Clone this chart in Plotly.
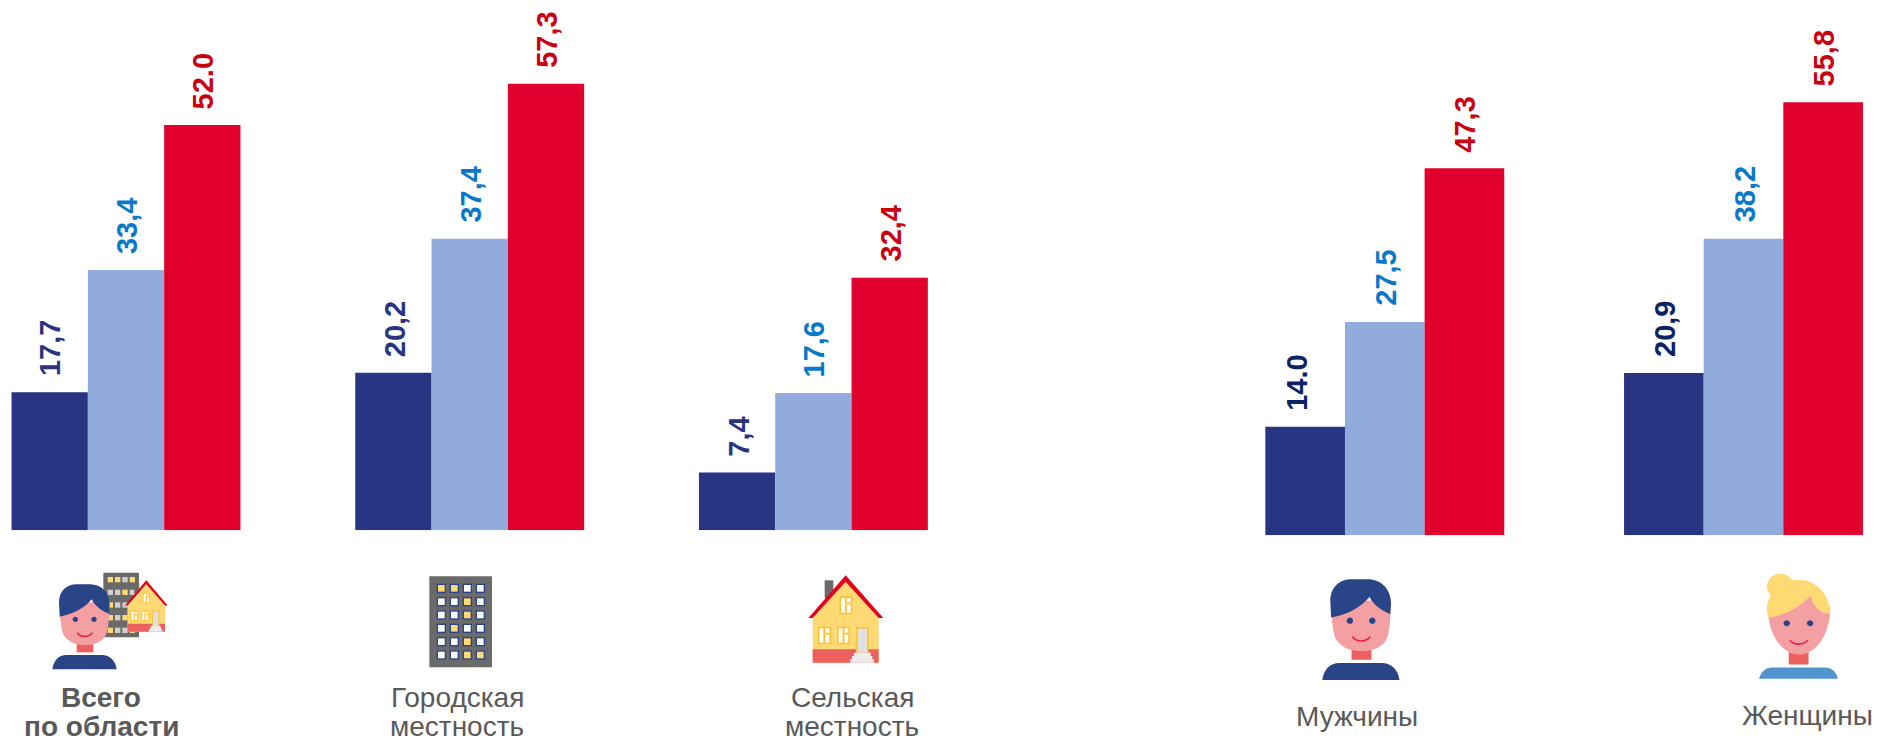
import re
import plotly.graph_objects as go

W, H = 1881, 742

left_categories = ["Всего по области", "Городская местность", "Сельская местность"]
left_low = [17.7, 20.2, 7.4]
left_mid = [33.4, 37.4, 17.6]
left_high = [52.0, 57.3, 32.4]
left_low_text = ["17,7", "20,2", "7,4"]
left_mid_text = ["33,4", "37,4", "17,6"]
left_high_text = ["52.0", "57,3", "32,4"]

right_categories = ["Мужчины", "Женщины"]
right_low = [14.0, 20.9]
right_mid = [27.5, 38.2]
right_high = [47.3, 55.8]
right_low_text = ["14.0", "20,9"]
right_mid_text = ["27,5", "38,2"]
right_high_text = ["47,3", "55,8"]

NAVY, LIGHT, RED = "#283583", "#90ABDC", "#E1002D"
T_NAVY, T_DARK, T_BLUE, T_RED = "#2A3480", "#0B2265", "#0A78C8", "#C9000F"
BARGAP = 0.334
FS_VAL = 29
FS_CAT = 28
BASE_L, BASE_R = 530.2, 535.3

fig = go.Figure()
for xa, ya, cats, series in [
    ("x", "y", left_categories, (left_low, left_mid, left_high)),
    ("x2", "y2", right_categories, (right_low, right_mid, right_high)),
]:
    for vals, col in zip(series, (NAVY, LIGHT, RED)):
        fig.add_bar(x=cats, y=vals, xaxis=xa, yaxis=ya, marker=dict(color=col, line_width=0),
                    showlegend=False, hoverinfo="skip")

annotations = []
w = (1 - BARGAP) / 3
def value_labels(xr, yr, series, texts, colors):
    for j, (vals, txts, col) in enumerate(zip(series, texts, colors)):
        for i, (v, t) in enumerate(zip(vals, txts)):
            annotations.append(dict(x=i + (j - 1) * w, y=v, xref=xr, yref=yr, text=f"<b>{t}</b>", showarrow=False,
                                    textangle=-90, yanchor="bottom", xanchor="center", yshift=14,
                                    xshift=-9 if t == "14.0" else 1,
                                    font=dict(family="Liberation Sans", size=FS_VAL, color=col)))
value_labels("x", "y", (left_low, left_mid, left_high), (left_low_text, left_mid_text, left_high_text),
             (T_NAVY, T_BLUE, T_RED))
value_labels("x2", "y2", (right_low, right_mid, right_high), (right_low_text, right_mid_text, right_high_text),
             (T_DARK, T_BLUE, T_RED))

# category captions (x centre px, y centre px, html text)
captions = [
    (101, 697, "<b>Всего</b>"), (101, 726, "<b>по области</b>"),
    (457, 697, "Городская"), (457, 726, "местность"),
    (852, 697, "Сельская"), (852, 726, "местность"),
    (1357, 716, "Мужчины"), (1807, 715, "Женщины"),
]
for cx, cy, t in captions:
    annotations.append(dict(x=cx / W, y=1 - cy / H, xref="paper", yref="paper", text=t, showarrow=False,
                            xanchor="center", yanchor="middle",
                            font=dict(family="Liberation Sans", size=FS_CAT, color="#595959")))

# ---------- pictograms, drawn as layout shapes in pixel space ----------
shapes = []
def tr(d, f):
    nums = iter(re.findall(r"[MLCZ]|-?\d+\.?\d*", d))
    out = []
    for tok in nums:
        if tok in "MLCZ":
            out.append(tok)
        else:
            x, y = float(tok), float(next(nums))
            px, py = f(x, y)
            out.append(f"{px / W:.5f},{1 - py / H:.5f}")
    return " ".join(out)
def P(d, f, fill=None, line=None, lw=0):
    shapes.append(dict(type="path", path=tr(d, f), xref="paper", yref="paper", layer="above",
                       fillcolor=fill if fill else "rgba(0,0,0,0)",
                       line=dict(color=line if line else "rgba(0,0,0,0)", width=lw)))
def rect(x0, y0, x1, y1):
    return f"M{x0} {y0} L{x1} {y0} L{x1} {y1} L{x0} {y1} Z"
def ell(cx, cy, rx, ry):
    k = 0.5523
    return (f"M{cx-rx} {cy} C{cx-rx} {cy-k*ry} {cx-k*rx} {cy-ry} {cx} {cy-ry} "
            f"C{cx+k*rx} {cy-ry} {cx+rx} {cy-k*ry} {cx+rx} {cy} "
            f"C{cx+rx} {cy+k*ry} {cx+k*rx} {cy+ry} {cx} {cy+ry} "
            f"C{cx-k*rx} {cy+ry} {cx-rx} {cy+k*ry} {cx-rx} {cy} Z")
def xf(sx, sy, ox, oy):
    return lambda x, y: (ox + x * sx, oy + y * sy)

HAIR, SKIN, NECK, YEL, GREY = "#2A4488", "#F4A0A3", "#EC6060", "#FFD973", "#6A6A6A"
def man(f):
    P("M157 385 C160 360 175 342 200 342 L305 342 C330 342 347 360 350 385 Z", f, HAIR)
    P(rect(230, 306, 280, 334), f, NECK)
    P("M180 190 L181 225 C183 260 186 280 200 293 C215 308 235 312 254 312 C275 312 295 308 310 293 "
      "C322 280 325 260 327 225 L328 180 Z", f, SKIN)
    P("M179 227 L177 185 C177 150 200 130 230 130 L270 130 C305 130 328 155 329 190 L327 218 "
      "C305 210 285 195 275 175 C255 200 220 220 179 227 Z", f, HAIR)
    P(ell(226, 235, 8, 8), f, HAIR)
    P(ell(282, 235, 8, 8), f, HAIR)
    P("M232 275 C240 290 268 290 277 275", f, None, "#EE2050", 1.6)

def house(f):
    P(rect(254, 118, 280, 172), f, GREY)
    P("M218 230 L318 118 L416 230 L416 365 L218 365 Z", f, YEL)
    P(rect(218, 325, 416, 365), f, NECK)
    P("M205 231 L317 103 L430 231 L416 231 L317 122 L218 231 Z", f, "#E3001B")
    for x0, y0, x1, y1 in [(298, 166, 337, 220), (233, 257, 273, 310), (291, 257, 330, 310)]:
        P(rect(x0, y0, x1, y1), f, "#FFC233")
        P(rect(x0 + 5, y0 + 5, x1 - 5, y1 - 5), f, "#FFFFFF")
        P(rect((x0 + x1) / 2 - 3, y0 + 5, (x0 + x1) / 2 + 3, y1 - 5), f, "#FFC233")
        P(rect((x0 + x1) / 2 + 3, y0 + 18, x1 - 5, y0 + 24), f, "#FFC233")
    P(rect(348, 258, 386, 335), f, "#FFC233")
    P(rect(353, 263, 381, 335), f, "#E0E0E0")
    P("M342 335 L392 335 L392 345 L397 345 L397 355 L402 355 L402 365 L331 365 L331 355 L336 355 L336 345 L342 345 Z",
      f, "#ECECEC")

# first pictogram: person + block + house
f1 = xf(1 / 3, 1 / 3, 0, 541)
P(rect(310, 95, 417, 289), f1, GREY)
cells1 = [["y", "y", "g", "y"], ["g", "g", "y", "g"], ["y", "g", "g", "g"], ["y", "g", "y", "g"], ["y", "g", "g", "y"]]
for r, row in enumerate(cells1):
    for c, k in enumerate(row):
        x, y = 323 + c * 22, 108 + r * 38
        P(rect(x, y, x + 16, y + 16), f1, YEL if k == "y" else "#CFCFCF")
man(f1)
house(xf(0.569 / 3, 0.588 / 3, 375 / 3 - 205 * 0.569 / 3, 541 + 118 / 3 - 103 * 0.588 / 3))

# block of flats
cells2 = ["yyww", "wwyw", "wwyw", "wyww", "wwyw", "wwyy"]
P(rect(1288, 106, 1476, 379), f1, GREY)
for r, row in enumerate(cells2):
    for c, k in enumerate(row):
        cx, cy = 1324 + c * 39, 142 + r * 40
        P(rect(cx - 14, cy - 14, cx + 14, cy + 14), f1, HAIR)
        P(rect(cx - 10, cy - 10, cx + 10, cy + 10), f1, YEL if k == "y" else "#FFFFFF")

# rural house
house(xf(1 / 3, 1 / 3, 740, 541))

# man
man(xf(0.4, 0.3953, 1259.5, 541.5 + 113 / 3 - 130 * 0.3953))

# woman
f5 = xf(1 / 2.525, 1 / 3, 1260, 540.5)
P("M1260 415 C1265 395 1275 381 1295 381 L1425 381 C1445 381 1455 395 1459 415 Z", f5, "#4F94CE")
P(rect(1335, 330, 1385, 372), f5, NECK)
P("M1283 215 C1285 285 1320 342 1360 342 C1405 342 1440 280 1440 200 L1380 150 Z", f5, SKIN)
P(ell(1314, 138, 34, 38), f5, YEL)
P("M1282 232 L1280 200 C1285 150 1320 118 1360 118 C1405 118 1440 165 1440 220 "
  "C1415 220 1395 195 1390 165 C1365 200 1325 225 1282 232 Z", f5, YEL)
P(ell(1330, 248, 8, 9), f5, HAIR)
P(ell(1389, 248, 8, 9), f5, HAIR)
P("M1338 298 C1345 315 1375 315 1383 298", f5, None, "#EE2050", 1.6)

fig.update_layout(
    width=W, height=H, margin=dict(l=0, r=0, t=0, b=0), autosize=False,
    paper_bgcolor="white", plot_bgcolor="white", barmode="group", bargap=BARGAP, bargroupgap=0,
    xaxis=dict(domain=[0, 1000 / W], range=[(0 - 126) / 343.7, (1000 - 126) / 343.7], visible=False,
               type="category", categoryorder="array", categoryarray=left_categories),
    yaxis=dict(domain=[1 - BASE_L / H, 1], range=[0, BASE_L / 7.79], visible=False),
    xaxis2=dict(domain=[1200 / W, 1], range=[(1200 - 1384.8) / 358.7, (1881 - 1384.8) / 358.7], visible=False,
                type="category", categoryorder="array", categoryarray=right_categories, anchor="y2"),
    yaxis2=dict(domain=[1 - BASE_R / H, 1], range=[0, BASE_R / 7.76], visible=False, anchor="x2"),
    annotations=annotations, shapes=shapes,
)
fig.write_html("out.html", config={"displayModeBar": False},
               post_script="document.body.style.margin='0';document.body.style.overflow='hidden';")
